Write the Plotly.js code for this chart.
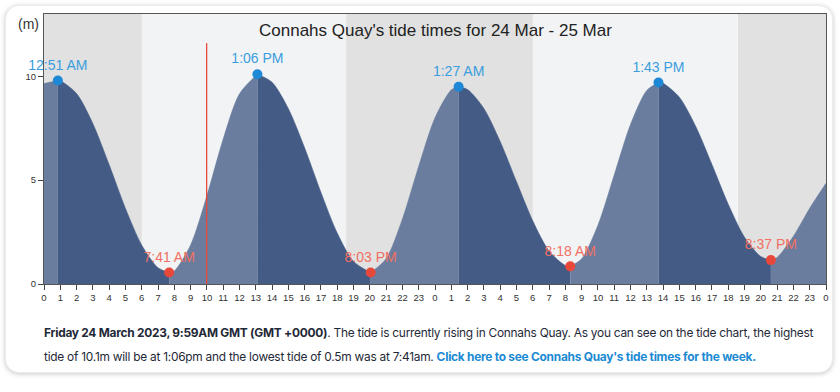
<!DOCTYPE html>
<html>
<head>
<meta charset="utf-8">
<script src="https://cdn.plot.ly/plotly-3.0.1.min.js"></script>
<style>
  html, body { margin: 0; padding: 0; background: #ffffff; width: 840px; height: 392px; overflow: hidden; }
  #card { position: absolute; left: 5px; top: 5px; width: 828px; height: 368px; background: #fff;
          border-radius: 14px; box-shadow: 0 1px 5px rgba(0,0,0,0.22); border: 1px solid #ececec; box-sizing: border-box; }
  #chart { position: absolute; left: 0; top: 0; width: 840px; height: 305px; }
  #txt { position: absolute; left: 44px; top: 321px; width: 790px; font-family: Inter, "Noto Sans", sans-serif;
         font-size: 11.9px; letter-spacing: -0.25px; line-height: 24px; color: #1f2937; white-space: nowrap; }
  #txt b { color: #1f2937; font-weight: 700; }
  #txt a { color: #1b8ad3; font-weight: 700; text-decoration: none; }
</style>
</head>
<body>
<div id="card"></div>
<div id="chart"></div>
<div id="txt"><b>Friday 24 March 2023, 9:59AM GMT (GMT +0000)</b>. The tide is currently rising in Connahs Quay. As you can see on the tide chart, the highest<br>tide of 10.1m will be at 1:06pm and the lowest tide of 0.5m was at 7:41am. <a>Click here to see Connahs Quay's tide times for the week.</a></div>
<script>
// Tide curve samples (hours since 24 Mar 00:00, metres)
const tideHours = [0, 0.85, 1, 2, 3, 4, 5, 6, 7, 7.683, 8, 9, 10, 11, 12, 13.1, 14, 15, 16, 17, 18, 19, 20.05,
  21, 22, 23, 24, 25, 25.45, 26, 27, 28, 29, 30, 31, 32, 32.3, 33, 34, 35, 36, 37, 37.717,
  38, 39, 40, 41, 42, 43, 44, 44.617, 45, 46, 47, 48];
const tideHeights = [9.65, 9.8, 9.79, 9.17, 7.72, 5.74, 3.64, 1.87, 0.78, 0.55, 0.63, 1.88, 4.25, 6.98, 9.16, 10.1, 9.71, 8.44, 6.55, 4.41, 2.45, 1.08, 0.55,
  1.22, 3.13, 5.67, 8.0, 9.35, 9.5, 9.36, 8.45, 6.86, 4.93, 3.04, 1.59, 0.89, 0.85, 1.21, 2.83, 5.25, 7.68, 9.32, 9.7,
  9.66, 8.99, 7.59, 5.75, 3.84, 2.25, 1.32, 1.15, 1.28, 2.3, 3.65, 4.85];

// High and low tides
const highHours = [0.85, 13.1, 25.45, 37.717];
const highHeights = [9.8, 10.1, 9.5, 9.7];
const highLabels = ["12:51 AM", "1:06 PM", "1:27 AM", "1:43 PM"];
const lowHours = [7.683, 20.05, 32.3, 44.617];
const lowHeights = [0.55, 0.55, 0.85, 1.15];
const lowLabels = ["7:41 AM", "8:03 PM", "8:18 AM", "8:37 PM"];

// Night periods (hours)
const nightStarts = [0, 18.55, 42.6];
const nightEnds = [6.0, 30.0, 48];

const nowHour = 9.983;

// X tick labels (hour of day)
const tickHours = [];
const tickTexts = [];
for (let h = 0; h <= 48; h++) { tickHours.push(h); tickTexts.push(String(h % 24)); }

const risingColor = "rgb(106,125,158)";
const fallingColor = "rgb(68,92,133)";

// Build rising/falling segments split at extremes
const bounds = [0].concat(highHours.concat(lowHours).sort((a, b) => a - b), [48]);
const traces = [];
for (let i = 0; i < bounds.length - 1; i++) {
  const a = bounds[i], b = bounds[i + 1];
  const xs = [], ys = [];
  tideHours.forEach((t, k) => { if (t >= a - 1e-9 && t <= b + 1e-9) { xs.push(t); ys.push(tideHeights[k]); } });
  const endsHigh = highHours.some(h => Math.abs(h - b) < 1e-6);
  const rising = endsHigh || b === 48;
  const col = rising ? risingColor : fallingColor;
  traces.push({
    x: xs, y: ys, type: "scatter", mode: "lines",
    line: { shape: "spline", smoothing: 0.8, color: col, width: 0.6 },
    fill: "tozeroy", fillcolor: col, hoverinfo: "skip", showlegend: false
  });
}

traces.push({
  x: highHours, y: highHeights, type: "scatter", mode: "markers+text",
  text: highLabels, textposition: "top center",
  textfont: { family: "Arial, Liberation Sans, sans-serif", size: 14, color: "rgb(58,157,222)" },
  marker: { size: 10, color: "rgb(28,136,214)" }, cliponaxis: false, hoverinfo: "skip", showlegend: false
});
traces.push({
  x: lowHours, y: lowHeights, type: "scatter", mode: "markers+text",
  text: lowLabels, textposition: "top center",
  textfont: { family: "Arial, Liberation Sans, sans-serif", size: 14, color: "rgb(242,112,98)" },
  marker: { size: 10, color: "rgb(232,72,58)" }, cliponaxis: false, hoverinfo: "skip", showlegend: false
});

const shapes = nightStarts.map((s, i) => ({
  type: "rect", xref: "x", yref: "paper", x0: s, x1: nightEnds[i], y0: 0, y1: 1,
  fillcolor: "#e1e1e1", line: { width: 0 }, layer: "below"
}));
shapes.push({
  type: "line", xref: "x", yref: "y", x0: nowHour, x1: nowHour, y0: 0, y1: 11.6,
  line: { color: "rgb(232,72,58)", width: 1.3 }, layer: "above"
});

const layout = {
  width: 840, height: 305,
  margin: { l: 44, r: 14, t: 14, b: 21 },
  paper_bgcolor: "rgba(0,0,0,0)",
  plot_bgcolor: "#f2f3f5",
  font: { family: "Arial, Liberation Sans, sans-serif", color: "#333" },
  xaxis: {
    range: [0, 48], tickmode: "array", tickvals: tickHours, ticktext: tickTexts,
    ticks: "outside", ticklen: 5, tickcolor: "#444", tickfont: { size: 9.5, color: "#333" },
    showgrid: false, zeroline: false, showline: true, mirror: true, linecolor: "#555", linewidth: 1,
    fixedrange: true
  },
  yaxis: {
    range: [0, 13], tickvals: [0, 5, 10], ticks: "outside", ticklen: 5, tickcolor: "#444",
    tickfont: { size: 9.5, color: "#333" },
    showgrid: false, zeroline: false, showline: true, mirror: true, linecolor: "#555", linewidth: 1,
    fixedrange: true
  },
  shapes: shapes,
  annotations: [
    { text: "Connahs Quay's tide times for 24 Mar - 25 Mar", xref: "paper", yref: "paper", x: 0.5, y: 1,
      xanchor: "center", yanchor: "top", yshift: -5, showarrow: false,
      font: { size: 17, color: "#222", family: "Arial, Liberation Sans, sans-serif" } },
    { text: "(m)", xref: "paper", yref: "paper", x: 0, y: 1, xanchor: "right", yanchor: "top",
      xshift: -3, yshift: 0, showarrow: false, font: { size: 14, color: "#333" } }
  ]
};

Plotly.newPlot("chart", traces, layout, { displayModeBar: false, staticPlot: true });
</script>
</body>
</html>
